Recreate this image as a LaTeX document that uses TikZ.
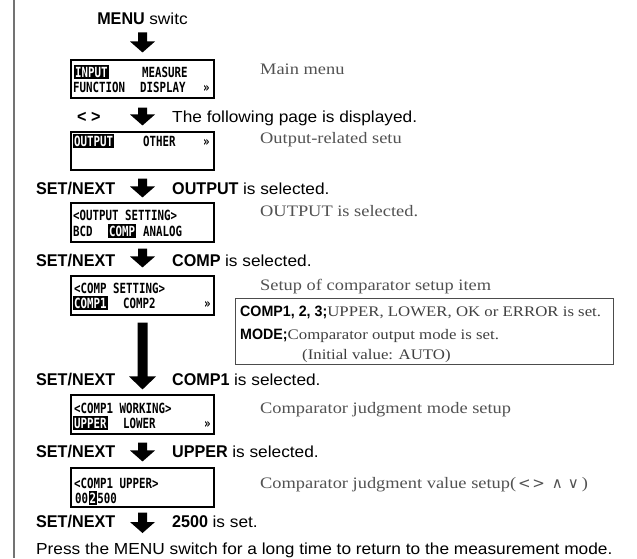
\documentclass[tikz,border=0pt]{standalone}
\usepackage{fontspec}
\setmainfont{Liberation Sans}
\newfontfamily\keyfont[FakeStretch=0.95]{Liberation Sans}
\newfontfamily\msgfont[FakeStretch=1.08]{Liberation Sans}
\newfontfamily\notefont[FakeStretch=1.15]{Liberation Serif}
\newfontfamily\lcdfont[FakeStretch=0.77]{DejaVu Sans Mono}
\newfontfamily\symfont{DejaVu Sans}
\usetikzlibrary{calc}

% plain message text after a bold key word
\newcommand\msgtext[1]{{\fontsize{16}{19}\selectfont\msgfont\mdseries #1}}
% serif remark text inside the note box
\newcommand\remark[1]{{\fontsize{14.6}{18}\selectfont\notefont\mdseries\color{black!75}#1}}
% filled block arrow pointing down: tail, tip, shaft half width, head half width, head length
\newcommand\blockarrow[5]{%
  \fill let \p1=#1, \p2=#2 in
    ({\x1-#3pt},\y1) -- ({\x1+#3pt},\y1) -- ({\x1+#3pt},{\y2+#5pt}) --
    ({\x1+#4pt},{\y2+#5pt}) -- (\x1,\y2) -- ({\x1-#4pt},{\y2+#5pt}) --
    ({\x1-#3pt},{\y2+#5pt}) -- cycle;}

\tikzset{
  every node/.style={inner sep=0pt, anchor=base west},
  keyt/.style={font=\fontsize{17}{20}\selectfont\keyfont\bfseries},
  msg/.style={font=\fontsize{16}{19}\selectfont\msgfont},
  note/.style={font=\fontsize{16}{19}\selectfont\notefont, text=black!68},
  lcd/.style={font=\fontsize{14}{16}\selectfont\lcdfont\bfseries},
  hl/.style={lcd, fill=black, text=white, inner xsep=1pt, inner ysep=1.5pt},
  screen/.style={draw, line width=1.1pt, minimum width=143pt, minimum height=38pt, anchor=center},
}

\begin{document}
\begin{tikzpicture}[x=1pt,y=-1pt]
\fill[white] (0,0) rectangle (637,558);
\useasboundingbox (0,0) rectangle (637,558);

% margin rule
\draw[line width=1.6pt, black!55] (14,0) -- (14,558);

% start
\node[keyt, anchor=base] (menu) at (142.5,24) {MENU \msgtext{switc}};

% display screens
\node[screen] (s1) at (142.5,79) {};
\node[screen] (s2) at (142.5,151) {};
\node[screen, minimum height=39pt] (s3) at (142.5,222.5) {};
\node[screen, minimum height=39pt] (s4) at (142.5,295.5) {};
\node[screen, minimum height=39pt] (s5) at (142.5,414.5) {};
\node[screen, minimum height=39pt] (s6) at (142.5,487.5) {};

% screen 1: main menu
\node[hl]  (s1a) at (74,77) {INPUT};
\node[lcd] (s1b) at (142,77) {MEASURE};
\node[lcd] (s1c) at (73,92) {FUNCTION};
\node[lcd] (s1d) at (140,92) {DISPLAY};
\node[lcd] (s1e) at (203,92) {»};
% screen 2
\node[hl]  (s2a) at (73,146) {OUTPUT};
\node[lcd] (s2b) at (143,146) {OTHER};
\node[lcd] (s2c) at (203,146) {»};
% screen 3
\node[lcd] (s3a) at (73,220) {<OUTPUT SETTING>};
\node[lcd] (s3b) at (73,236) {BCD};
\node[hl]  (s3c) at (108,236) {COMP};
\node[lcd] (s3d) at (143,236) {ANALOG};
% screen 4
\node[lcd] (s4a) at (74,293) {<COMP SETTING>};
\node[hl]  (s4b) at (73,308) {COMP1};
\node[lcd] (s4c) at (123,308) {COMP2};
\node[lcd] (s4d) at (204,308) {»};
% screen 5
\node[lcd] (s5a) at (74,413) {<COMP1 WORKING>};
\node[hl]  (s5b) at (73,428) {UPPER};
\node[lcd] (s5c) at (123,428) {LOWER};
\node[lcd] (s5d) at (204,428) {»};
% screen 6
\node[lcd] (s6a) at (74,488) {<COMP1 UPPER>};
\node[lcd] (s6b) at (75,503) {00};
\node[hl]  (s6c) at (s6b.base east) {2};
\node[lcd] (s6d) at (s6c.base east) {500};

% block arrows between the steps
\coordinate (fin) at (142.5,533);
\blockarrow{($(menu.south)+(0,8)$)}{($(s1.north)+(0,-7)$)}{4.5}{12.5}{11}
\blockarrow{($(s1.south)+(0,9)$)}{($(s2.north)+(0,-6)$)}{4.5}{12.5}{11}
\blockarrow{($(s2.south)+(0,8)$)}{($(s3.north)+(0,-5)$)}{4.5}{12.5}{11}
\blockarrow{($(s3.south)+(0,6)$)}{($(s4.north)+(0,-8)$)}{4.5}{12.5}{11}
\blockarrow{($(s4.south)+(0,7)$)}{($(s5.north)+(0,-5)$)}{5}{13.5}{13}
\blockarrow{($(s5.south)+(0,8)$)}{($(s6.north)+(0,-6)$)}{4.5}{12.5}{11}
\blockarrow{($(s6.south)+(0,5)$)}{(fin)}{4.5}{12.5}{11}

% key rows
\node[keyt] (k1) at (77,122) {< >};
\node[msg]  (m1) at (172,122) {The following page is displayed.};
\node[keyt] (k2) at (36,194) {SET/NEXT};
\node[keyt] (m2) at (172,194) {OUTPUT \msgtext{is selected.}};
\node[keyt] (k3) at (36,266) {SET/NEXT};
\node[keyt] (m3) at (172,266) {COMP \msgtext{is selected.}};
\node[keyt] (k4) at (36,385) {SET/NEXT};
\node[keyt] (m4) at (172,385) {COMP1 \msgtext{is selected.}};
\node[keyt] (k5) at (36,457) {SET/NEXT};
\node[keyt] (m5) at (172,457) {UPPER \msgtext{is selected.}};
\node[keyt] (k6) at (36,527) {SET/NEXT};
\node[keyt] (m6) at (172,527) {2500 \msgtext{is set.}};
\node[msg]  (m7) at (36,554) {Press the MENU switch for a long time to return to the measurement mode.};

% remarks beside the screens
\node[note] (n1) at (260,74) {Main menu};
\node[note] (n2) at (260,143) {Output-related setu};
\node[note] (n3) at (260,216) {OUTPUT is selected.};
\node[note] (n4) at (260,290) {Setup of comparator setup item};
\node[note] (n5) at (260,413) {Comparator judgment mode setup};
\node[note] (n6) at (260,488) {Comparator judgment value setup({\symfont\fontsize{15}{17}\selectfont\hspace{2pt}<\hspace{1.5pt}>\hspace{7pt}∧\hspace{5pt}∨\hspace{3pt}})};

% comparator item box
\node[draw=black!70, line width=0.8pt, minimum width=378pt, minimum height=66pt, anchor=north west] (info) at (235,298) {};
\node[font=\fontsize{15}{18}\selectfont\keyfont\bfseries] (i1) at (240,316) {COMP1, 2, 3;\remark{UPPER, LOWER, OK or ERROR is set.}};
\node[font=\fontsize{15}{18}\selectfont\keyfont\bfseries] (i2) at (240,339) {MODE;\remark{Comparator output mode is set.}};
\node (i3) at (302,359) {\remark{(Initial value: AUTO)}};
\end{tikzpicture}
\end{document}
